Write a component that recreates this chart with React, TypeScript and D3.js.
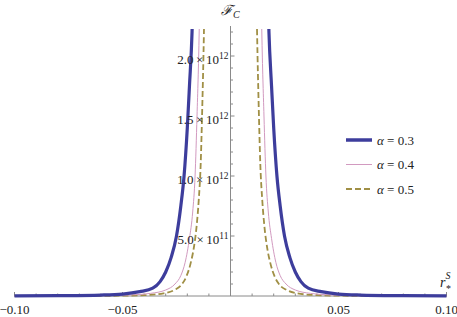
import * as d3 from 'd3';
import { useEffect, useRef } from 'react';

// legend labels and colours
const alphas = ['0.3', '0.4', '0.5'];
const colors = ['#3d3d9c', '#d29ac0', '#a08f45'];

// r values and F_C values (in units of 1e12)
const r03 = [-0.1, -0.08, -0.06, -0.05, -0.042, -0.036, -0.0326, -0.03, -0.0275, -0.025, -0.023, -0.0215, -0.02, -0.019, -0.0178, -0.017,
    0.017, 0.0178, 0.019, 0.02, 0.0215, 0.023, 0.025, 0.0275, 0.03, 0.0326, 0.036, 0.042, 0.05, 0.06, 0.08, 0.1];
const f03 = [0.001, 0.003, 0.008, 0.016, 0.036, 0.065, 0.12, 0.2, 0.32, 0.5, 0.75, 1.0, 1.4, 1.75, 2.2, 2.75,
    2.75, 2.2, 1.75, 1.4, 1.0, 0.75, 0.5, 0.32, 0.2, 0.12, 0.065, 0.036, 0.016, 0.008, 0.003, 0.001];

const r04 = [-0.1, -0.07, -0.055, -0.045, -0.037, -0.03, -0.0257, -0.023, -0.021, -0.019, -0.0175, -0.0164, -0.0155, -0.0145, -0.014,
    0.014, 0.0145, 0.0155, 0.0164, 0.0175, 0.019, 0.021, 0.023, 0.0257, 0.03, 0.037, 0.045, 0.055, 0.07, 0.1];
const f04 = [0.0003, 0.0015, 0.004, 0.01, 0.022, 0.05, 0.1, 0.17, 0.28, 0.48, 0.7, 1.0, 1.5, 2.2, 2.75,
    2.75, 2.2, 1.5, 1.0, 0.7, 0.48, 0.28, 0.17, 0.1, 0.05, 0.022, 0.01, 0.004, 0.0015, 0.0003];

const r05 = [-0.1, -0.055, -0.04, -0.031, -0.026, -0.0224, -0.0205, -0.0185, -0.017, -0.0157, -0.0147, -0.0138, -0.0131, -0.0123, -0.0118,
    0.0118, 0.0123, 0.0131, 0.0138, 0.0147, 0.0157, 0.017, 0.0185, 0.0205, 0.0224, 0.026, 0.031, 0.04, 0.055, 0.1];
const f05 = [0.0001, 0.002, 0.007, 0.022, 0.05, 0.1, 0.16, 0.27, 0.4, 0.58, 0.8, 1.1, 1.55, 2.2, 2.75,
    2.75, 2.2, 1.55, 1.1, 0.8, 0.58, 0.4, 0.27, 0.16, 0.1, 0.05, 0.022, 0.007, 0.002, 0.0001];

const xTicks = [-0.1, -0.05, 0.05, 0.1];
const xTickLabels = ['\u22120.10', '\u22120.05', '0.05', '0.10'];
const yTicks = [0.5, 1.0, 1.5, 2.0];
const yTickMant = ['5.0', '1.0', '1.5', '2.0'];
const yTickExp = ['11', '12', '12', '12'];

const App = () => {
    const ref = useRef<SVGSVGElement>(null);

    useEffect(() => {
        drawChart();
    }, []);

    const drawChart = () => {
        const width = 457;
        const svg: any = d3.select(ref.current);
        svg.selectAll('*').remove();

        const x = d3.scaleLinear().domain([-0.1, 0.1]).range([14.5, 446.5]);
        const y = d3.scaleLinear().domain([0, 2.225]).range([296, 29]);
        const font = 'Liberation Serif';
        const axisColor = '#8a8a8a';

        svg.append('defs').append('clipPath').attr('id', 'plotclip')
            .append('rect').attr('x', 0).attr('y', y(2.225)).attr('width', width).attr('height', 296 - y(2.225) + 4);

        // axes
        svg.append('line').attr('x1', x(-0.1)).attr('x2', x(0.1)).attr('y1', y(0)).attr('y2', y(0))
            .attr('stroke', axisColor).attr('stroke-width', 1);
        svg.append('line').attr('x1', x(0)).attr('x2', x(0)).attr('y1', 26).attr('y2', y(0))
            .attr('stroke', axisColor).attr('stroke-width', 1);

        // x ticks (major every 0.05, minor every 0.01)
        const xMinor = d3.range(-10, 11).map((i) => i / 100).filter((v) => Math.abs(v) > 1e-9);
        svg.selectAll('.xt').data(xMinor).enter().append('line')
            .attr('x1', (d: number) => x(d)).attr('x2', (d: number) => x(d))
            .attr('y1', y(0)).attr('y2', (d: number) => y(0) - (Math.round(d * 100) % 5 === 0 ? 4 : 2.5))
            .attr('stroke', axisColor).attr('stroke-width', 1);

        // y ticks (major every 5e11, minor every 1e11)
        const yMinor = d3.range(1, 23).map((i) => i / 10);
        svg.selectAll('.yt').data(yMinor).enter().append('line')
            .attr('y1', (d: number) => y(d)).attr('y2', (d: number) => y(d))
            .attr('x1', x(0)).attr('x2', (d: number) => x(0) + (Math.round(d * 10) % 5 === 0 ? 4 : 2.5))
            .attr('stroke', axisColor).attr('stroke-width', 1);

        // curves
        const line = d3.line<[number, number]>()
            .x((d) => x(d[0])).y((d) => y(d[1]))
            .curve(d3.curveMonotoneX);
        const series = [[r03, f03], [r04, f04], [r05, f05]];
        const widths = [3.2, 1, 1.8];
        const g = svg.append('g').attr('clip-path', 'url(#plotclip)');
        // draw back-to-front: dashed, pink, blue
        [2, 1, 0].forEach((k) => {
            const [rs, fs] = series[k];
            const pts: [number, number][] = rs.map((r, i) => [r, fs[i]]);
            const branches = [pts.filter((p) => p[0] < 0), pts.filter((p) => p[0] > 0)];
            branches.forEach((b) => {
                g.append('path').attr('d', line(b))
                    .attr('fill', 'none')
                    .attr('stroke', colors[k])
                    .attr('stroke-width', widths[k])
                    .attr('stroke-dasharray', k === 2 ? '6,3' : null);
            });
        });

        // x tick labels
        svg.selectAll('.xl').data(xTicks).enter().append('text')
            .attr('x', (d: number) => x(d)).attr('y', 314)
            .attr('text-anchor', 'middle')
            .attr('font-family', font).attr('font-size', 13).attr('fill', '#222')
            .text((_d: number, i: number) => xTickLabels[i]);

        // y tick labels
        const yl = svg.selectAll('.yl').data(yTicks).enter().append('text')
            .attr('x', x(0) - 2).attr('y', (d: number) => y(d) + 7.5)
            .attr('text-anchor', 'end')
            .attr('font-family', font).attr('font-size', 13).attr('fill', '#222');
        yl.append('tspan').text((_d: number, i: number) => yTickMant[i] + '\u2009\u00d7\u200910');
        yl.append('tspan').attr('dy', -5).attr('font-size', 9.5).text((_d: number, i: number) => yTickExp[i]);

        // axis labels
        const fl = svg.append('text').attr('x', 221).attr('y', 15)
            .attr('font-family', font).attr('font-size', 14).attr('fill', '#222');
        fl.append('tspan').attr('font-style', 'italic').text('\u2131');
        fl.append('tspan').attr('dy', 3).attr('font-size', 10).attr('font-style', 'italic').text('C');

        const rl = svg.append('text').attr('x', 440).attr('y', 287)
            .attr('font-family', font).attr('font-size', 14).attr('fill', '#222');
        rl.append('tspan').attr('font-style', 'italic').text('r');
        rl.append('tspan').attr('dy', -8).attr('font-size', 10).attr('font-style', 'italic').text('S');
        svg.append('text').attr('x', 446).attr('y', 292)
            .attr('font-family', font).attr('font-size', 10).attr('fill', '#222').text('*');

        // legend
        const legendY = [140, 164.5, 189];
        alphas.forEach((a, i) => {
            svg.append('line').attr('x1', 346).attr('x2', 372).attr('y1', legendY[i]).attr('y2', legendY[i])
                .attr('stroke', colors[i]).attr('stroke-width', i === 0 ? 3.5 : widths[i])
                .attr('stroke-dasharray', i === 2 ? '6,3' : null);
            const t = svg.append('text').attr('x', 377).attr('y', legendY[i] + 4.5)
                .attr('font-family', font).attr('font-size', 13).attr('fill', '#222');
            t.append('tspan').attr('font-style', 'italic').text('\u03b1');
            t.append('tspan').text(' = ' + a);
        });
    };

    return (
        <svg ref={ref} width={457} height={317}
            style={{ position: 'absolute', left: 0, top: 0, background: '#fff' }} />
    );
};

export default App;
